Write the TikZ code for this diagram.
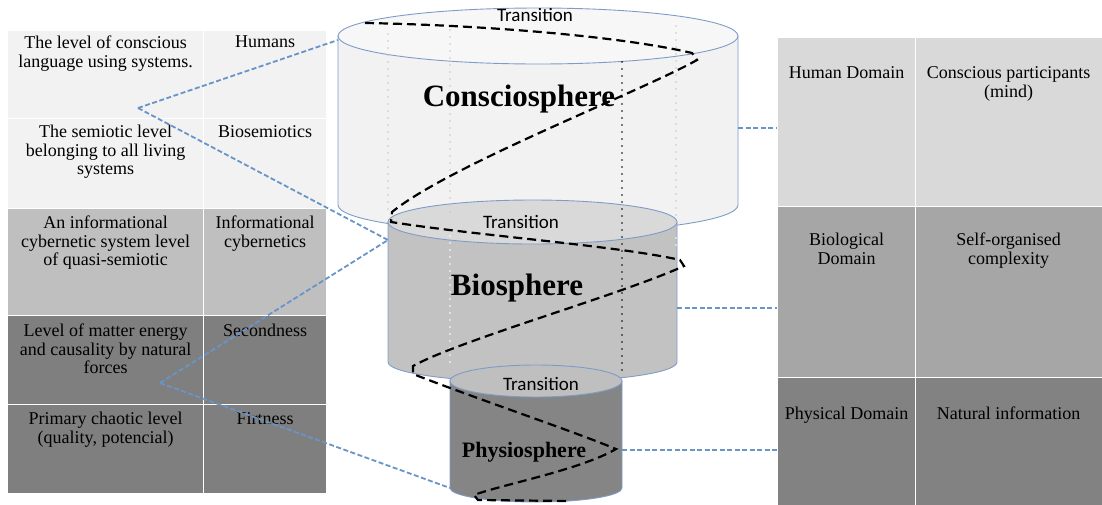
\documentclass[tikz,border=0pt]{standalone}
\usepackage{fontspec}
\setmainfont{Liberation Serif}
\newfontfamily\calibri{Carlito}
\usepackage{xcolor}
\definecolor{paleGrey}{HTML}{F2F2F2}
\definecolor{lightGrey}{HTML}{D9D9D9}
\definecolor{midGrey}{HTML}{BFBFBF}
\definecolor{darkGrey}{HTML}{A6A6A6}
\definecolor{deepGrey}{HTML}{7F7F7F}
\definecolor{rimBlue}{HTML}{7F9CC8}
\definecolor{linkBlue}{HTML}{4F81BD}
\usetikzlibrary{positioning, calc}

\begin{document}
\begin{tikzpicture}[
        x=1pt, y=-1pt,
        cellbox/.style={rectangle, draw=white, line width=1.2pt, anchor=north west, inner sep=0pt},
        celltxt/.style={align=center, inner sep=0pt, font=\fontsize{18}{18.5}\selectfont},
        rim/.style={draw=rimBlue, line width=0.9pt},
        trans/.style={font=\calibri\fontsize{19}{19}\selectfont, inner sep=0pt},
        sphere/.style={font=\bfseries\fontsize{31}{31}\selectfont, inner sep=0pt, anchor=base},
        link/.style={draw=linkBlue!85, line width=1.8pt, dash pattern=on 5pt off 2.5pt},
        helix/.style={draw=black, line width=2.2pt, dash pattern=on 9pt off 5pt},
        guide/.style={line width=1.8pt, line cap=round, dash pattern=on 0pt off 7pt}
    ]
    \useasboundingbox (0,0) rectangle (1102,504);

    % Left table
    \node[cellbox, fill=paleGrey, minimum width=196, minimum height=88] (l1a) at (7,30) {};
    \node[cellbox, fill=paleGrey, minimum width=123, minimum height=88] (l1b) at (203,30) {};
    \node[cellbox, fill=paleGrey, minimum width=196, minimum height=90] (l2a) at (7,118) {};
    \node[cellbox, fill=paleGrey, minimum width=123, minimum height=90] (l2b) at (203,118) {};
    \node[cellbox, fill=midGrey, minimum width=196, minimum height=107] (l3a) at (7,208) {};
    \node[cellbox, fill=midGrey, minimum width=123, minimum height=107] (l3b) at (203,208) {};
    \node[cellbox, fill=deepGrey, minimum width=196, minimum height=89] (l4a) at (7,315) {};
    \node[cellbox, fill=deepGrey, minimum width=123, minimum height=89] (l4b) at (203,315) {};
    \node[cellbox, fill=deepGrey, minimum width=196, minimum height=89] (l5a) at (7,404) {};
    \node[cellbox, fill=deepGrey, minimum width=123, minimum height=89] (l5b) at (203,404) {};

    \node[celltxt, below=6pt of l1a.north] (t1a) {The level of conscious\\language using systems.};
    \node[celltxt, below=6pt of l1b.north] (t1b) {Humans};
    \node[celltxt, below=7pt of l2a.north] (t2a) {The semiotic level\\belonging to all living\\systems};
    \node[celltxt, below=7pt of l2b.north] (t2b) {Biosemiotics};
    \node[celltxt, below=8pt of l3a.north] (t3a) {An informational\\cybernetic system level\\of quasi-semiotic};
    \node[celltxt, below=8pt of l3b.north] (t3b) {Informational\\cybernetics};
    \node[celltxt, below=9pt of l4a.north] (t4a) {Level of matter energy\\and causality by natural\\forces};
    \node[celltxt, below=9pt of l4b.north] (t4b) {Secondness};
    \node[celltxt, below=8pt of l5a.north] (t5a) {Primary chaotic level\\(quality, potencial)};
    \node[celltxt, below=8pt of l5b.north] (t5b) {Firtness};

    % Right table
    \node[cellbox, fill=lightGrey, minimum width=138, minimum height=169] (r1a) at (777,37) {};
    \node[cellbox, fill=lightGrey, minimum width=190, minimum height=169] (r1b) at (915,37) {};
    \node[cellbox, fill=darkGrey, minimum width=138, minimum height=171] (r2a) at (777,206) {};
    \node[cellbox, fill=darkGrey, minimum width=190, minimum height=171] (r2b) at (915,206) {};
    \node[cellbox, fill=deepGrey!98!white, minimum width=138, minimum height=130] (r3a) at (777,377) {};
    \node[cellbox, fill=deepGrey!98!white, minimum width=190, minimum height=130] (r3b) at (915,377) {};

    \node[celltxt, below=29pt of r1a.north, font=\fontsize{18}{19}\selectfont] (u1a) {Human Domain};
    \node[celltxt, below=29pt of r1b.north, xshift=-2pt, font=\fontsize{18}{19}\selectfont] (u1b) {Conscious participants\\(mind)};
    \node[celltxt, below=27pt of r2a.north, font=\fontsize{18}{19}\selectfont] (u2a) {Biological\\Domain};
    \node[celltxt, below=27pt of r2b.north, xshift=-2pt, font=\fontsize{18}{19}\selectfont] (u2b) {Self-organised\\complexity};
    \node[celltxt, below=30pt of r3a.north, font=\fontsize{18}{19}\selectfont] (u3a) {Physical Domain};
    \node[celltxt, below=30pt of r3b.north, xshift=-2pt, font=\fontsize{18}{19}\selectfont] (u3b) {Natural information};

    % Consciosphere cylinder
    \path[rim, fill=paleGrey] (338,36) -- (338,205)
        arc[start angle=180, end angle=0, x radius=200, y radius=28] -- (738,36) -- cycle;
    \path[rim, fill=paleGrey!60!white] (538,36) ellipse[x radius=200, y radius=28];

    % Biosphere cylinder
    \path[rim, fill=midGrey!95!white] (388,222) -- (388,362)
        arc[start angle=180, end angle=0, x radius=144.5, y radius=20] -- (677,222) -- cycle;
    \path[rim, fill=lightGrey] (532.5,222) ellipse[x radius=144.5, y radius=22];

    % Physiosphere cylinder
    \path[rim, fill=deepGrey!95!white] (450,381) -- (450,488)
        arc[start angle=180, end angle=0, x radius=86, y radius=14] -- (622,381) -- cycle;
    \path[rim, fill=midGrey] (536,381) ellipse[x radius=86, y radius=16];

    % Guide lines
    \draw[guide, gray!45] (388,34) -- (388,215);
    \draw[guide, gray!45] (450,30) -- (450,216);
    \draw[guide, white] (450,236) -- (450,365);
    \draw[guide, gray!45] (676,26) -- (676,224);
    \draw[guide, white] (676,238) -- (676,250);
    \draw[guide, black] (622,62) -- (622,376);

    % Helix
    \draw[helix] (365,23) .. controls (480,25) and (620,36) .. (692,53)
        -- (697,60) .. controls (640,92) and (450,165) .. (392,212)
        -- (391,222) .. controls (480,236) and (620,246) .. (680,260)
        -- (684,266) .. controls (620,295) and (460,340) .. (413,366)
        -- (413,374) .. controls (480,400) and (570,430) .. (616,449)
        .. controls (580,470) and (500,485) .. (474,495)
        -- (478,500) -- (568,501);

    % Connectors
    \coordinate (hubTop) at (138,108);
    \coordinate (hubLow) at (160,383);
    \coordinate (consW) at (338,40);
    \coordinate (bioW) at (388,240);
    \coordinate (physW) at (450,488);
    \coordinate (consE) at (738,128);
    \coordinate (bioE) at (677,308);
    \coordinate (physE) at (622,450);
    \draw[link] (hubTop) -- (consW);
    \draw[link] (hubTop) -- (bioW);
    \draw[link] (hubLow) -- (bioW);
    \draw[link] (hubLow) -- (physW);
    \draw[link] (consE) -- (consE -| r1a.west);
    \draw[link] (bioE) -- (bioE -| r2a.west);
    \draw[link] (physE) -- (physE -| r3a.west);

    % Labels
    \node[trans] (tr1) at (535,15) {Transition};
    \node[trans] (tr2) at (521,222) {Transition};
    \node[trans] (tr3) at (541,384) {Transition};
    \node[sphere] (conslbl) at (519,106) {Consciosphere};
    \node[sphere] (biolbl) at (517,295) {Biosphere};
    \node[sphere, font=\bfseries\fontsize{22}{22}\selectfont] (physlbl) at (524,457) {Physiosphere};

\end{tikzpicture}
\end{document}
